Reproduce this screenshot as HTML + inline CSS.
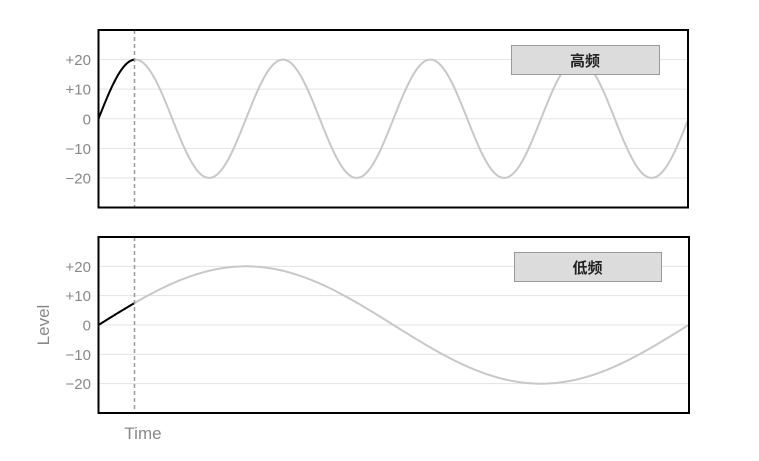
<!DOCTYPE html>
<html><head><meta charset="utf-8"><style>
body{margin:0;background:#fff;}
svg text{font-family:"Liberation Sans","Noto Sans CJK SC",sans-serif;}
</style></head><body>
<svg id="c" width="759" height="456" xmlns="http://www.w3.org/2000/svg"></svg>
<script>
const tickValues=[20,10,0,-10,-20];
const tickLabels=['+20','+10','0','\u221210','\u221220'];
const panelNames=['高频','低频'];
const amplitudes=[20,20];
const periods=[147.5,590];
const cursorTime=36;
const svg=document.getElementById('c');
const NS='http://www.w3.org/2000/svg';
function mk(t,a,p){const e=document.createElementNS(NS,t);for(const k in a)e.setAttribute(k,a[k]);(p||svg).appendChild(e);return e;}
const panels=[{x0:98.5,x1:688,y0:30,y1:207.5,lx:511,ly:45,lw:148},{x0:98.5,x1:689,y0:237,y1:413,lx:514,ly:252,lw:147}];
panels.forEach((P,i)=>{
  const g=mk('g',{});
  
  
  const cy=(P.y0+P.y1)/2, k=(P.y1-P.y0)/60;
  const Y=v=>cy-v*k, X=t=>P.x0+t;
  tickValues.forEach((v,j)=>{
    const l=mk('line',{x1:P.x0,x2:P.x1,y1:Y(v),y2:Y(v),stroke:'#e3e3e3','stroke-width':1},g);
    
    
    const t=mk('text',{x:91,y:Y(v)+5.5,'text-anchor':'end','font-size':15,fill:'#888'},g);
    t.textContent=tickLabels[j];
    
    
  });
  const W=P.x1-P.x0;
  let pg='',pb='';
  for(let t=0;t<=W;t+=1){const v=amplitudes[i]*Math.sin(2*Math.PI*t/periods[i]);const s=X(t).toFixed(1)+','+Y(v).toFixed(1)+' ';pg+=s;if(t<=cursorTime)pb+=s;}
  const lg=mk('polyline',{points:pg,fill:'none',stroke:'#c8c8c8','stroke-width':2},g);
  
  
  const lb=mk('polyline',{points:pb,fill:'none',stroke:'#000','stroke-width':2},g);
  
  
  const cl=mk('line',{x1:X(cursorTime),x2:X(cursorTime),y1:P.y0,y2:P.y1,stroke:'#999','stroke-width':1.5,'stroke-dasharray':'4,3'},g);
  
  
  const r=mk('rect',{x:P.x0,y:P.y0,width:W,height:P.y1-P.y0,fill:'none',stroke:'#000','stroke-width':2},g);
  
  
  const lr=mk('rect',{x:P.lx+.5,y:P.ly+.5,width:P.lw,height:29,fill:'#dcdcdc',stroke:'#999','stroke-width':1},g);
  
  
  const lt=mk('text',{x:P.lx+P.lw/2,y:P.ly+21,'text-anchor':'middle','font-size':15,'font-weight':'bold',fill:'#222'},g);
  lt.textContent=panelNames[i];
  
  
});
const yt=mk('text',{x:0,y:0,transform:'translate(49,325) rotate(-90)','text-anchor':'middle','font-size':17,fill:'#888'});
yt.textContent='Level';


const xt=mk('text',{x:143,y:439,'text-anchor':'middle','font-size':17,fill:'#888'});
xt.textContent='Time';


</script>
</body></html>
